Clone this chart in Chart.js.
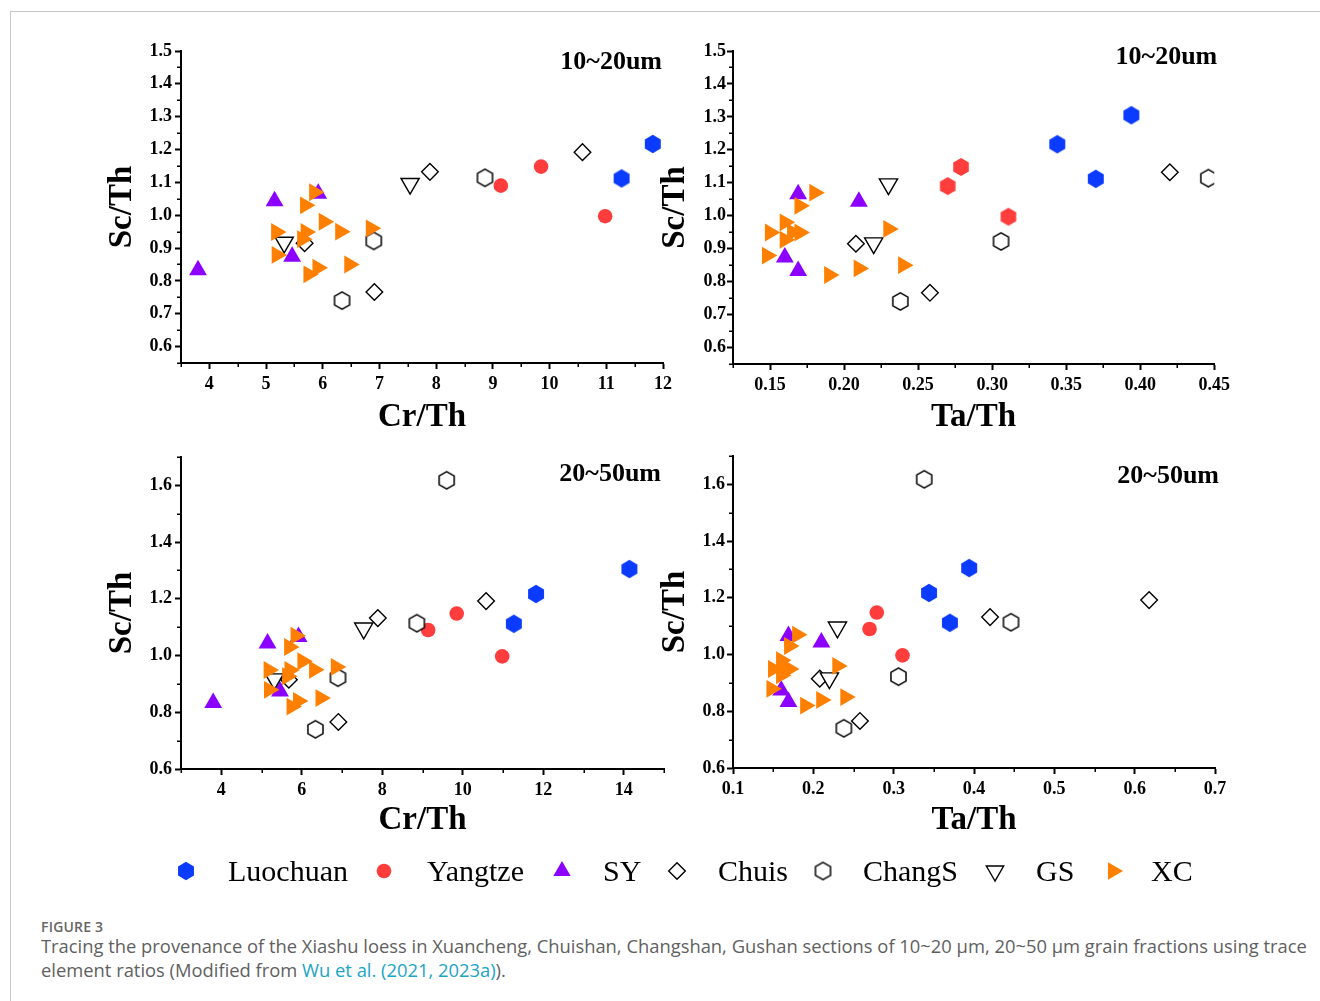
<!DOCTYPE html>
<html><head><meta charset="utf-8">
<script src="https://cdn.jsdelivr.net/npm/chart.js@4.4.1/dist/chart.umd.min.js"></script>
<style>
html,body{margin:0;padding:0;background:#fff;}
body{width:1320px;height:1001px;position:relative;overflow:hidden;}
.frame{position:absolute;left:10px;top:11px;width:1320px;height:1000px;border-left:1px solid #c6c6c6;border-top:1px solid #c6c6c6;}
canvas.panel{position:absolute;}
.lg-text{position:absolute;font-family:'Liberation Serif','Times New Roman',serif;font-size:30px;line-height:30px;color:#000;white-space:nowrap;}
canvas.lg-sym{position:absolute;}
.cap{position:absolute;left:41px;font-family:'Open Sans',sans-serif;color:#5f5f5f;white-space:nowrap;}
</style>
</head><body>
<div class="frame"></div>
<canvas class="panel" id="p1" width="590" height="430" style="left:95px;top:20px"></canvas>
<canvas class="panel" id="p2" width="590" height="430" style="left:645px;top:20px"></canvas>
<canvas class="panel" id="p3" width="590" height="430" style="left:95px;top:430px"></canvas>
<canvas class="panel" id="p4" width="590" height="430" style="left:645px;top:430px"></canvas>
<div id="legend"></div>
<div class="cap" id="figlabel" style="top:919px;font-size:14px;line-height:16px;font-weight:600;color:#666;letter-spacing:0.2px">FIGURE 3</div>
<div class="cap" id="cap1" style="top:935px;font-size:17px;line-height:22px"><span id="cap1s">Tracing the provenance of the Xiashu loess in Xuancheng, Chuishan, Changshan, Gushan sections of 10~20 μm, 20~50 μm grain fractions using trace</span></div>
<div class="cap" id="cap2" style="top:959px;font-size:17px;line-height:22px">element ratios (Modified from <span style="color:#1ba4c4">Wu et al. (2021, 2023a)</span>).</div>
<script>
// ---------------- data ----------------
const groupNames = ['Luochuan','Yangtze','SY','Chuis','ChangS','GS','XC'];

const luochuanSc = [1.305, 1.217, 1.112];
const luochuanCr = [14.14, 11.82, 11.27];
const luochuanTa = [0.394, 0.344, 0.370];

const yangtzeSc = [1.090, 1.148, 0.997];
const yangtzeCr = [9.14, 9.85, 10.98];
const yangtzeTa = [0.270, 0.279, 0.311];

const sySc = [0.833, 1.043, 0.874, 1.066];
const syCr = [3.80, 5.15, 5.46, 5.92];
const syTa = [0.169, 0.210, 0.160, 0.169];

const chuisSc = [1.132, 1.192, 0.766, 0.915];
const chuisCr = [7.89, 10.58, 6.91, 5.68];
const chuisTa = [0.420, 0.618, 0.258, 0.208];

const changsSc = [1.618, 1.114, 0.922, 0.740];
const changsCr = [9.60, 8.86, 6.90, 6.34];
const changsTa = [0.338, 0.446, 0.306, 0.238];

const gsSc = [1.096, 0.917];
const gsCr = [7.54, 5.32];
const gsTa = [0.230, 0.220];

const xcSc = [1.070, 1.030, 0.980, 0.960, 0.950, 0.949, 0.949, 0.927, 0.879, 0.850, 0.840, 0.820];
const xcCr = [5.85, 5.69, 6.02, 6.85, 6.31, 5.18, 5.70, 5.64, 5.19, 6.47, 5.91, 5.75];
const xcTa = [0.180, 0.170, 0.160, 0.230, 0.165, 0.150, 0.170, 0.160, 0.148, 0.240, 0.210, 0.190];

// tick labels
const ticksCr1 = [4, 5, 6, 7, 8, 9, 10, 11, 12];
const minorCr1 = [3.5, 4.5, 5.5, 6.5, 7.5, 8.5, 9.5, 10.5, 11.5];
const ticksTa1 = [0.15, 0.20, 0.25, 0.30, 0.35, 0.40, 0.45];
const minorTa1 = [0.125, 0.175, 0.225, 0.275, 0.325, 0.375, 0.425];
const ticksSc1 = [0.6, 0.7, 0.8, 0.9, 1.0, 1.1, 1.2, 1.3, 1.4, 1.5];
const minorSc1 = [0.55, 0.65, 0.75, 0.85, 0.95, 1.05, 1.15, 1.25, 1.35, 1.45];
const ticksCr2 = [4, 6, 8, 10, 12, 14];
const minorCr2 = [3, 5, 7, 9, 11, 13, 15];
const ticksTa2 = [0.1, 0.2, 0.3, 0.4, 0.5, 0.6, 0.7];
const minorTa2 = [0.15, 0.25, 0.35, 0.45, 0.55, 0.65];
const ticksSc2 = [0.6, 0.8, 1.0, 1.2, 1.4, 1.6];
const minorSc2 = [0.7, 0.9, 1.1, 1.3, 1.5, 1.7];

const panelTitles = ['10~20um', '10~20um', '20~50um', '20~50um'];
const xTitles = ['Cr/Th', 'Ta/Th', 'Cr/Th', 'Ta/Th'];
const yTitle = 'Sc/Th';

// ---------------- styling ----------------
const SERIF = "'Liberation Serif','Times New Roman',serif";
const colors = {Luochuan:'#0b3bff', Yangtze:'#ff3d3d', SY:'#8b00ff', XC:'#ff8000'};

function hexCanvas(r, fill, stroke, lw){
  const pad = Math.ceil(lw) + 1;
  const w = Math.round(Math.sqrt(3) * r) + 2 * pad;
  const h = Math.round(2 * r) + 2 * pad;
  const c = document.createElement('canvas');
  c.width = w; c.height = h;
  const g = c.getContext('2d');
  g.beginPath();
  for (let k = 0; k < 6; k++) {
    const a = -Math.PI / 2 + k * Math.PI / 3;
    const px = w / 2 + r * Math.cos(a), py = h / 2 + r * Math.sin(a);
    if (k) g.lineTo(px, py); else g.moveTo(px, py);
  }
  g.closePath();
  if (fill) { g.fillStyle = fill; g.fill(); }
  if (stroke) { g.strokeStyle = stroke; g.lineWidth = lw; g.stroke(); }
  return c;
}
const hexBlue = hexCanvas(9.2, colors.Luochuan, null, 0);
const hexRed = hexCanvas(9, colors.Yangtze, null, 0);
const hexOpen = hexCanvas(8.7, '#fff', '#000', 1.5);

function seriesStyle(name, panel){
  switch(name){
    case 'Luochuan': return {pointStyle: hexBlue, pointRadius: 9, backgroundColor: colors.Luochuan, borderWidth: 0};
    case 'Yangtze': return panel === 1
      ? {pointStyle: hexRed, pointRadius: 9, backgroundColor: colors.Yangtze, borderWidth: 0}
      : {pointStyle: 'circle', pointRadius: 7.3, backgroundColor: colors.Yangtze, borderWidth: 0};
    case 'SY': return {pointStyle: 'triangle', pointRadius: 10.3, backgroundColor: colors.SY, borderWidth: 0};
    case 'Chuis': return {pointStyle: 'rectRot', pointRadius: 8.3, backgroundColor: '#fff', borderColor: '#000', borderWidth: 1.4};
    case 'ChangS': return {pointStyle: hexOpen, pointRadius: 9, backgroundColor: '#fff', borderWidth: 0};
    case 'GS': return {pointStyle: 'triangle', rotation: 180, pointRadius: 10.5, backgroundColor: '#fff', borderColor: '#000', borderWidth: 1.4};
    case 'XC': return {pointStyle: 'triangle', rotation: 90, pointRadius: 10.3, backgroundColor: colors.XC, borderWidth: 0};
  }
}

const scArrays = {Luochuan: luochuanSc, Yangtze: yangtzeSc, SY: sySc, Chuis: chuisSc, ChangS: changsSc, GS: gsSc, XC: xcSc};
const crArrays = {Luochuan: luochuanCr, Yangtze: yangtzeCr, SY: syCr, Chuis: chuisCr, ChangS: changsCr, GS: gsCr, XC: xcCr};
const taArrays = {Luochuan: luochuanTa, Yangtze: yangtzeTa, SY: syTa, Chuis: chuisTa, ChangS: changsTa, GS: gsTa, XC: xcTa};

// plugins
const minorTickPlugin = {
  id: 'minorTicks',
  afterDraw(chart, args, opts){
    const {ctx} = chart;
    const xs = chart.scales.x, ys = chart.scales.y;
    const area = chart.chartArea;
    ctx.save();
    ctx.strokeStyle = '#000';
    ctx.lineWidth = 1.5;
    ctx.beginPath();
    (opts.x || []).forEach(v => {
      const px = Math.round(xs.getPixelForValue(v)) + 0.25;
      ctx.moveTo(px, area.bottom); ctx.lineTo(px, area.bottom + 4);
    });
    (opts.y || []).forEach(v => {
      const py = Math.round(ys.getPixelForValue(v)) + 0.25;
      ctx.moveTo(area.left - 4, py); ctx.lineTo(area.left, py);
    });
    ctx.stroke();
    ctx.restore();
  }
};
const panelLabelPlugin = {
  id: 'panelLabel',
  afterDraw(chart, args, opts){
    if (!opts.text) return;
    const {ctx, chartArea} = chart;
    ctx.save();
    ctx.font = 'bold 26px ' + SERIF;
    ctx.fillStyle = '#000';
    ctx.textAlign = 'right';
    ctx.textBaseline = 'middle';
    ctx.fillText(opts.text, chartArea.right + opts.dx, chartArea.top + opts.dy);
    ctx.restore();
  }
};

function makePanel(id, idx, cfg){
  const datasets = groupNames.map((name, i) => {
    const xs = cfg.useTa ? taArrays[name] : crArrays[name];
    const st = seriesStyle(name, idx);
    return Object.assign({
      label: name,
      data: scArrays[name].map((y, j) => ({x: xs[j], y: y})),
      order: groupNames.length - 1 - i,
      pointHoverRadius: st.pointRadius
    }, st);
  });
  const tickFont = {family: SERIF, size: 18, weight: 'bold'};
  const titleFont = {family: SERIF, size: 33, weight: 'bold', lineHeight: 1.2};
  return new Chart(document.getElementById(id), {
    type: 'scatter',
    data: {datasets},
    options: {
      responsive: false,
      animation: false,
      events: [],
      layout: {padding: {left: 0, right: cfg.padRight, top: cfg.padTop, bottom: 0}},
      plugins: {
        legend: {display: false},
        tooltip: {enabled: false},
        minorTicks: {x: cfg.minorX, y: cfg.minorY},
        panelLabel: {text: panelTitles[idx], dx: cfg.labelDx, dy: cfg.labelDy}
      },
      scales: {
        x: {
          type: 'linear', position: 'bottom',
          min: cfg.xMin, max: cfg.xMax,
          afterBuildTicks: s => { s.ticks = cfg.ticksX.map(v => ({value: v})); },
          afterFit: s => { s.height = cfg.xHeight; },
          ticks: {font: tickFont, color: '#000', padding: 5, maxRotation: 0, autoSkip: false,
                  callback: v => Number(v).toFixed(cfg.xDec)},
          grid: {drawOnChartArea: false, drawTicks: true, tickLength: 6, tickWidth: 2, tickColor: '#000'},
          border: {display: true, color: '#000', width: 2},
          title: {display: true, text: xTitles[idx], color: '#000', font: titleFont, padding: {top: 0, bottom: cfg.xTitlePad}}
        },
        y: {
          type: 'linear', position: 'left',
          min: cfg.yMin, max: cfg.yMax,
          afterBuildTicks: s => { s.ticks = cfg.ticksY.map(v => ({value: v})); },
          afterFit: s => { s.width = cfg.yWidth; },
          ticks: {font: tickFont, color: '#000', padding: cfg.yTickPad, autoSkip: false,
                  callback: v => Number(v).toFixed(1)},
          grid: {drawOnChartArea: false, drawTicks: true, tickLength: 6, tickWidth: 2, tickColor: '#000'},
          border: {display: true, color: '#000', width: 2},
          title: {display: true, text: yTitle, color: '#000', font: titleFont, padding: {top: cfg.yTitlePad, bottom: 0}}
        }
      }
    },
    plugins: [minorTickPlugin, panelLabelPlugin]
  });
}

makePanel('p1', 0, {useTa: false, xMin: 3.5, xMax: 12, yMin: 0.55, yMax: 1.5,
  ticksX: ticksCr1, minorX: minorCr1, ticksY: ticksSc1, minorY: minorSc1, xDec: 0,
  padRight: 22, padTop: 31, xHeight: 87, yWidth: 86, xTitlePad: 13, yTitlePad: 8, yTickPad: 3,
  labelDx: -1, labelDy: 11});
makePanel('p2', 1, {useTa: true, xMin: 0.125, xMax: 0.45, yMin: 0.55, yMax: 1.5,
  ticksX: ticksTa1, minorX: minorTa1, ticksY: ticksSc1, minorY: minorSc1, xDec: 2,
  padRight: 18, padTop: 31, xHeight: 86, yWidth: 88, xTitlePad: 13, yTitlePad: 11, yTickPad: 1,
  labelDx: 3, labelDy: 6});
makePanel('p3', 2, {useTa: false, xMin: 3, xMax: 15, yMin: 0.6, yMax: 1.7,
  ticksX: ticksCr2, minorX: minorCr2, ticksY: ticksSc2, minorY: minorSc2, xDec: 0,
  padRight: 21, padTop: 27, xHeight: 91, yWidth: 86, xTitlePad: 20, yTitlePad: 8, yTickPad: 3,
  labelDx: -3, labelDy: 17});
makePanel('p4', 3, {useTa: true, xMin: 0.1, xMax: 0.7, yMin: 0.6, yMax: 1.7,
  ticksX: ticksTa2, minorX: minorTa2, ticksY: ticksSc2, minorY: minorSc2, xDec: 1,
  padRight: 20, padTop: 26, xHeight: 92, yWidth: 88, xTitlePad: 20, yTitlePad: 11, yTickPad: 2,
  labelDx: 4, labelDy: 20});

// ---------------- legend ----------------
const legendSymX = [186, 384, 562, 677, 823, 995, 1113];
const legendTextX = [228, 427, 603, 718, 863, 1036, 1151];
const legendY = 871;
function drawLegendSymbol(g, name, cx, cy){
  const tri = (r, rot) => {
    g.beginPath();
    for (let k = 0; k < 3; k++) {
      const a = rot + k * 2 * Math.PI / 3;
      const px = cx + Math.sin(a) * r, py = cy - Math.cos(a) * r;
      if (k) g.lineTo(px, py); else g.moveTo(px, py);
    }
    g.closePath();
  };
  if (name === 'Luochuan') { g.drawImage(hexBlue, cx - hexBlue.width / 2, cy - hexBlue.height / 2); }
  else if (name === 'ChangS') { g.drawImage(hexOpen, cx - hexOpen.width / 2, cy - hexOpen.height / 2); }
  else if (name === 'Yangtze') { g.beginPath(); g.arc(cx, cy, 7.3, 0, 2 * Math.PI); g.fillStyle = colors.Yangtze; g.fill(); }
  else if (name === 'SY') { tri(10, 0); g.fillStyle = colors.SY; g.fill(); }
  else if (name === 'XC') { tri(10, Math.PI / 2); g.fillStyle = colors.XC; g.fill(); }
  else if (name === 'GS') { tri(10, Math.PI); g.strokeStyle = '#000'; g.lineWidth = 1.4; g.stroke(); }
  else if (name === 'Chuis') {
    g.beginPath(); g.moveTo(cx, cy - 8.3); g.lineTo(cx + 8.3, cy); g.lineTo(cx, cy + 8.3); g.lineTo(cx - 8.3, cy); g.closePath();
    g.strokeStyle = '#000'; g.lineWidth = 1.4; g.stroke();
  }
}
const legend = document.getElementById('legend');
groupNames.forEach((name, i) => {
  const c = document.createElement('canvas');
  c.className = 'lg-sym'; c.width = 30; c.height = 30;
  c.style.left = (legendSymX[i] - 15) + 'px'; c.style.top = (legendY - 15) + 'px';
  drawLegendSymbol(c.getContext('2d'), name, 15, 15);
  legend.appendChild(c);
  const t = document.createElement('div');
  t.className = 'lg-text'; t.textContent = name;
  t.style.left = legendTextX[i] + 'px'; t.style.top = (legendY - 15) + 'px';
  legend.appendChild(t);
});

// fit caption width
(function(){
  const s = document.getElementById('cap1s');
  const w = s.getBoundingClientRect().width;
  const target = 1266;
  let fs = 17 * target / w;
  fs = Math.max(15, Math.min(19.5, fs));
  document.getElementById('cap1').style.fontSize = fs + 'px';
  document.getElementById('cap2').style.fontSize = fs + 'px';
})();
</script>
</body></html>
